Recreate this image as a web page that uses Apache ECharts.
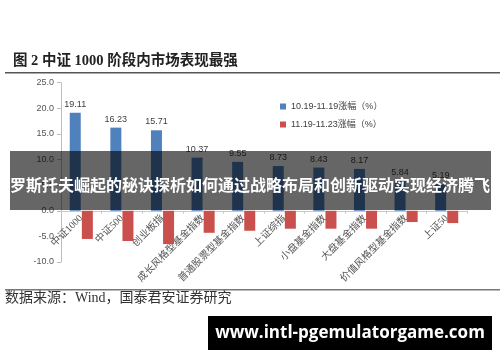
<!DOCTYPE html>
<html>
<head>
<meta charset="utf-8">
<style>
html,body{margin:0;padding:0;background:#fff;}
#c{width:500px;height:362px;}
</style>
<script src="https://cdn.jsdelivr.net/npm/echarts@6/dist/echarts.min.js"></script>
</head>
<body>
<div id="c"></div>
<script>
var categories = ['中证1000','中证500','创业板指','成长风格型基金指数','普通股票型基金指数','上证综指','小盘基金指数','大盘基金指数','价值风格型基金指数','上证50'];
var series1Name = '10.19-11.19涨幅（%）';
var series2Name = '11.19-11.23涨幅（%）';
var series1 = [19.11, 16.23, 15.71, 10.37, 9.55, 8.73, 8.43, 8.17, 5.84, 5.19];
var series2 = [-5.5, -5.9, -6.5, -4.3, -3.9, -3.5, -3.5, -3.5, -2.2, -2.4];
var titleText = '图 2 中证 1000 阶段内市场表现最强';
var sourceText = '数据来源：Wind，国泰君安证券研究';
var bannerText = '罗斯托夫崛起的秘诀探析如何通过战略布局和创新驱动实现经济腾飞';
var siteText = 'www.intl-pgemulatorgame.com';

var serif = '"Liberation Serif","DejaVu Serif","Noto Sans CJK SC",serif';
var sans = '"Liberation Sans","Noto Sans CJK SC",sans-serif';

var chart = echarts.init(document.getElementById('c'), null, {renderer:'canvas'});
chart.setOption({
  animation: false,
  backgroundColor: '#fff',
  grid: {left: 61, right: 33, top: 82.7, bottom: 100},
  legend: {
    orient: 'vertical',
    left: 275, top: 97,
    itemWidth: 6, itemHeight: 6, itemGap: 9,
    icon: 'rect',
    textStyle: {fontSize: 9, color: '#404040', fontFamily: sans},
    data: [series1Name, series2Name]
  },
  xAxis: {
    type: 'category',
    data: categories,
    offset: -51.2,
    axisLine: {onZero: false, lineStyle: {color: '#c8c8c8'}},
    axisTick: {show: true, length: 3, lineStyle: {color: '#c8c8c8'}},
    axisLabel: {rotate: 45, fontSize: 10, color: '#555', fontFamily: serif, margin: 6, interval: 0}
  },
  yAxis: {
    type: 'value',
    min: -10, max: 25, interval: 5,
    axisLine: {show: true, lineStyle: {color: '#bdbdbd'}},
    axisTick: {show: true, length: 4, lineStyle: {color: '#bdbdbd'}},
    splitLine: {show: false},
    axisLabel: {fontSize: 9, color: '#555', fontFamily: sans, margin: 7,
      formatter: function(v){ return v.toFixed(1); }}
  },
  series: [
    {name: series1Name, type: 'bar', data: series1, barWidth: 11, barGap: '10%',
     itemStyle: {color: '#4F81BD'},
     label: {show: true, position: 'top', distance: 4, fontSize: 9, color: '#404040', fontFamily: sans}},
    {name: series2Name, type: 'bar', data: series2, barWidth: 11,
     itemStyle: {color: '#C9504D'}}
  ],
  graphic: [
    {type: 'text', left: 13, top: 54, style: {text: titleText, fill: '#222', font: 'bold 14.5px ' + serif}},
    {type: 'rect', shape: {x: 5, y: 72, width: 495, height: 1.5}, style: {fill: '#555'}},
    {type: 'rect', shape: {x: 5, y: 289, width: 495, height: 1.5}, style: {fill: '#777'}},
    {type: 'text', left: 5, top: 291, style: {text: sourceText, font: '14px ' + serif, fill: '#333'}},
    {type: 'rect', z: 100, shape: {x: 10, y: 151, width: 481, height: 59}, style: {fill: 'rgba(0,0,0,0.6)'}},
    {type: 'text', z: 101, x: 250, y: 185, style: {text: bannerText, font: 'bold 16px "Noto Sans CJK SC",sans-serif', fill: '#fff', align: 'center', verticalAlign: 'middle'}},
    {type: 'rect', z: 100, shape: {x: 208, y: 316, width: 284, height: 34}, style: {fill: '#000'}},
    {type: 'text', z: 101, x: 350, y: 333, style: {text: siteText, font: 'bold 17px "Open Sans","DejaVu Sans",sans-serif', fill: '#fff', align: 'center', verticalAlign: 'middle'}}
  ]
});
</script>
</body>
</html>
